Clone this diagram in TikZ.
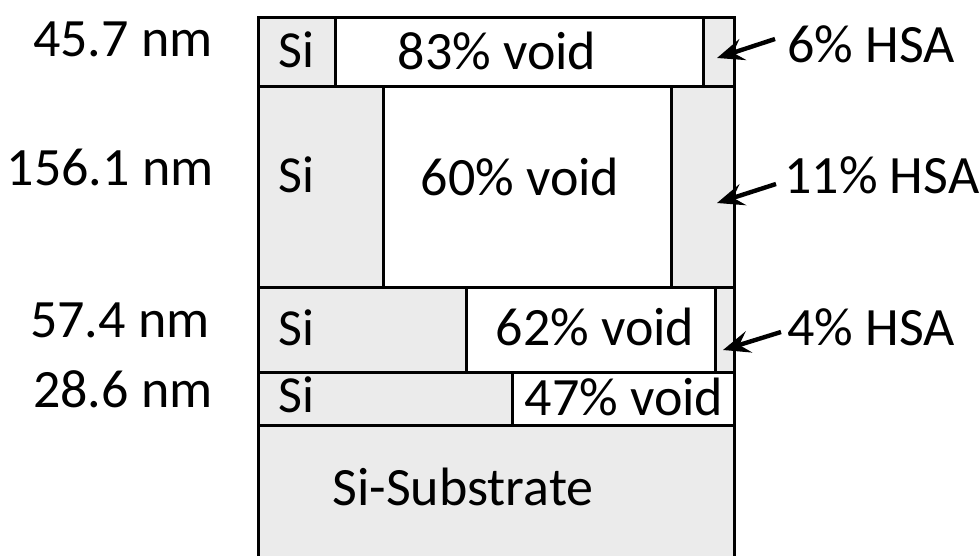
\documentclass[tikz,border=0pt]{standalone}
\usepackage{fontspec}
\setmainfont{Carlito}
\usetikzlibrary{arrows.meta}
\definecolor{sifill}{HTML}{EBEBEB}
\definecolor{siedge}{HTML}{A6A6A6}
\begin{document}
\begin{tikzpicture}[x=0.5pt,y=-0.5pt,
  txt/.style={font=\fontsize{27}{32}\selectfont, inner sep=0pt},
  sitxt/.style={font=\fontsize{26}{31}\selectfont, inner sep=0pt},
  sibox/.style={fill=sifill, draw=siedge, line width=0.5pt},
  voidbox/.style={fill=white, draw=black, line width=1.5pt},
  layerline/.style={draw=black, line width=1.5pt},
  pointer/.style={line width=2.2pt, -{Stealth[length=13.5pt,width=11pt,inset=5pt]}}]
\useasboundingbox (0,0) rectangle (980,556);
\clip (0,0) rectangle (980,556);
\fill[white] (0,0) rectangle (980,556);

% layer 1
\draw[sibox] (258,18) rectangle (335,87);
\draw[sibox] (703,18) rectangle (734,87);
\draw[voidbox] (335,18) rectangle (703,87);
% layer 2
\draw[sibox] (258,87) rectangle (383,287);
\draw[sibox] (671,87) rectangle (734,287);
\draw[voidbox] (383,87) rectangle (671,287);
% layer 3
\draw[sibox] (258,287) rectangle (466,372);
\draw[sibox] (715,287) rectangle (734,372);
\draw[voidbox] (466,287) rectangle (715,372);
% layer 4
\draw[sibox] (258,372) rectangle (512,425);
\draw[voidbox] (512,372) rectangle (734,425);
% substrate
\draw[sibox] (258,425) rectangle (734,600);

% layer boundaries and outline
\draw[layerline] (258,87) -- (734,87);
\draw[layerline] (258,287) -- (734,287);
\draw[layerline] (258,372) -- (734,372);
\draw[layerline] (258,425) -- (734,425);
\draw[layerline] (258,600) -- (258,18) -- (734,18) -- (734,600);

% thickness labels
\node[txt, anchor=base east] (d1) at (213,57) {45.7 nm};
\node[txt, anchor=base east] (d2) at (214,185) {156.1 nm};
\node[txt, anchor=base east] (d3) at (210,337) {57.4 nm};
\node[txt, anchor=base east] (d4) at (213,407) {28.6 nm};

% silicon labels
\node[sitxt, anchor=base west] (s1) at (278,68) {Si};
\node[sitxt, anchor=base west] (s2) at (278,192) {Si};
\node[sitxt, anchor=base west] (s3) at (278,345) {Si};
\node[sitxt, anchor=base west] (s4) at (278,412) {Si};

% void labels
\node[txt, anchor=base] (v1) at (497,70) {83\% void};
\node[txt, anchor=base] (v2) at (520,195) {60\% void};
\node[txt, anchor=base] (v3) at (595,345) {62\% void};
\node[txt, anchor=base] (v4) at (624,415) {47\% void};
\node[txt, anchor=base] (sub) at (463,505) {Si-Substrate};

% HSA labels and pointers
\node[txt, anchor=base west] (h1) at (787,63) {6\% HSA};
\node[txt, anchor=base west] (h2) at (784,193) {11\% HSA};
\node[txt, anchor=base west] (h3) at (787,345) {4\% HSA};
\coordinate (h1tail) at (775,39);
\coordinate (h1tip) at (717,58);
\coordinate (h2tail) at (776,184);
\coordinate (h2tip) at (717,203);
\coordinate (h3tail) at (781,332);
\coordinate (h3tip) at (723,350);
\draw[pointer] (h1tail) -- (h1tip);
\draw[pointer] (h2tail) -- (h2tip);
\draw[pointer] (h3tail) -- (h3tip);
\end{tikzpicture}
\end{document}
